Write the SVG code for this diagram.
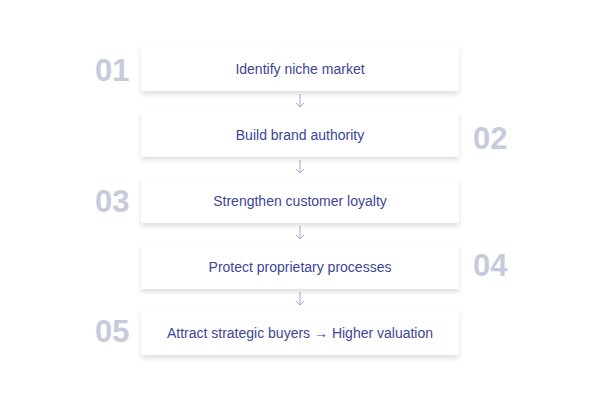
<svg xmlns="http://www.w3.org/2000/svg" width="600" height="400" viewBox="0 0 600 400">
<style>
.box{fill:#ffffff;filter:url(#sh)}
.lbl{font-family:"Liberation Sans",Arial,sans-serif;font-size:14px;fill:#3d4597;text-anchor:middle}
.num{font-family:"Liberation Sans",Arial,sans-serif;font-size:31px;font-weight:bold;fill:#c6cbdc}
.con{stroke:#9ea5d4;stroke-width:1;fill:none}
</style>
<defs>
<filter id="sh" x="-10%" y="-30%" width="120%" height="180%">
<feDropShadow dx="0" dy="3" stdDeviation="2.5" flood-color="#000" flood-opacity="0.13"/>
</filter>
<marker id="ah" markerWidth="10" markerHeight="10" refX="5" refY="5" orient="auto" markerUnits="userSpaceOnUse">
<path d="M1,1 L5,5 L1,9" stroke="#9ea5d4" stroke-width="1" fill="none"/>
</marker>
</defs>
<rect width="600" height="400" fill="#ffffff"/>
<g id="connectors">
<line class="con" x1="300" y1="94" x2="300" y2="107" marker-end="url(#ah)"/>
<line class="con" x1="300" y1="160" x2="300" y2="173" marker-end="url(#ah)"/>
<line class="con" x1="300" y1="226" x2="300" y2="239" marker-end="url(#ah)"/>
<line class="con" x1="300" y1="292" x2="300" y2="305" marker-end="url(#ah)"/>
</g>
<g id="step1">
<rect class="box" x="141" y="46" width="318" height="45"/>
<text class="lbl" x="300" y="74">Identify niche market</text>
<text class="num" x="95" y="81">01</text>
</g>
<g id="step2">
<rect class="box" x="141" y="112" width="318" height="45"/>
<text class="lbl" x="300" y="140">Build brand authority</text>
<text class="num" x="473" y="149">02</text>
</g>
<g id="step3">
<rect class="box" x="141" y="178" width="318" height="45"/>
<text class="lbl" x="300" y="206">Strengthen customer loyalty</text>
<text class="num" x="95" y="212">03</text>
</g>
<g id="step4">
<rect class="box" x="141" y="244" width="318" height="45"/>
<text class="lbl" x="300" y="272">Protect proprietary processes</text>
<text class="num" x="473" y="276">04</text>
</g>
<g id="step5">
<rect class="box" x="141" y="310" width="318" height="45"/>
<text class="lbl" x="300" y="338">Attract strategic buyers → Higher valuation</text>
<text class="num" x="95" y="342">05</text>
</g>
</svg>
